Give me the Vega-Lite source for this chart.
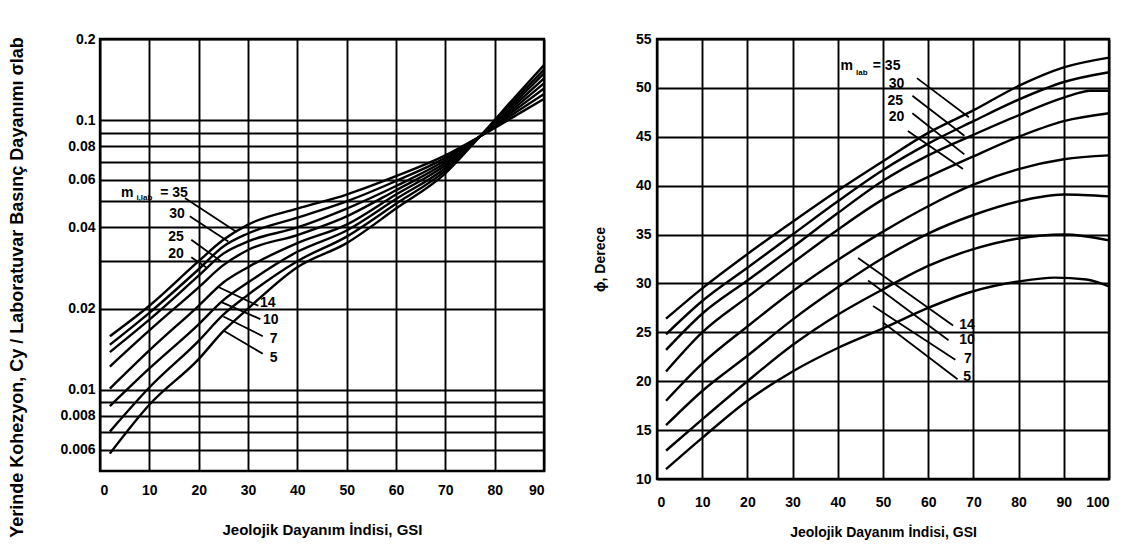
{
  "$schema": "https://vega.github.io/schema/vega-lite/v6.json",
  "background": "white",
  "padding": {"left": 7, "top": 30, "right": 4, "bottom": 2},
  "spacing": 42,
  "config": {
    "view": {"stroke": "black", "strokeWidth": 2.4},
    "axis": {"grid": true, "gridColor": "black", "gridWidth": 1.9, "gridOpacity": 1, "domain": false, "ticks": false,
      "labelFont": "Liberation Sans", "labelFontSize": 14, "labelFontWeight": "bold", "labelColor": "black", "labelPadding": 5,
      "titleFont": "Liberation Sans", "titleFontWeight": "bold", "titleColor": "black"}
  },
  "datasets": {
    "coh": [
      {"mi":35,"gsi":2,"c":0.0158},{"mi":35,"gsi":10,"c":0.0205},{"mi":35,"gsi":20,"c":0.030},{"mi":35,"gsi":25,"c":0.036},{"mi":35,"gsi":30,"c":0.041},{"mi":35,"gsi":40,"c":0.047},{"mi":35,"gsi":50,"c":0.053},{"mi":35,"gsi":60,"c":0.062},{"mi":35,"gsi":70,"c":0.074},{"mi":35,"gsi":77,"c":0.087},{"mi":35,"gsi":85,"c":0.106},{"mi":35,"gsi":90,"c":0.120},
      {"mi":30,"gsi":2,"c":0.0147},{"mi":30,"gsi":10,"c":0.0193},{"mi":30,"gsi":20,"c":0.028},{"mi":30,"gsi":25,"c":0.034},{"mi":30,"gsi":30,"c":0.038},{"mi":30,"gsi":40,"c":0.0435},{"mi":30,"gsi":50,"c":0.050},{"mi":30,"gsi":60,"c":0.0595},{"mi":30,"gsi":70,"c":0.0725},{"mi":30,"gsi":77,"c":0.087},{"mi":30,"gsi":85,"c":0.109},{"mi":30,"gsi":90,"c":0.125},
      {"mi":25,"gsi":2,"c":0.0138},{"mi":25,"gsi":10,"c":0.0182},{"mi":25,"gsi":20,"c":0.0265},{"mi":25,"gsi":25,"c":0.032},{"mi":25,"gsi":30,"c":0.0355},{"mi":25,"gsi":40,"c":0.040},{"mi":25,"gsi":50,"c":0.047},{"mi":25,"gsi":60,"c":0.057},{"mi":25,"gsi":70,"c":0.071},{"mi":25,"gsi":77,"c":0.087},{"mi":25,"gsi":85,"c":0.112},{"mi":25,"gsi":90,"c":0.131},
      {"mi":20,"gsi":2,"c":0.0122},{"mi":20,"gsi":10,"c":0.0166},{"mi":20,"gsi":20,"c":0.024},{"mi":20,"gsi":25,"c":0.029},{"mi":20,"gsi":30,"c":0.033},{"mi":20,"gsi":40,"c":0.0375},{"mi":20,"gsi":50,"c":0.044},{"mi":20,"gsi":60,"c":0.055},{"mi":20,"gsi":70,"c":0.0695},{"mi":20,"gsi":77,"c":0.087},{"mi":20,"gsi":85,"c":0.115},{"mi":20,"gsi":90,"c":0.137},
      {"mi":14,"gsi":2,"c":0.0101},{"mi":14,"gsi":10,"c":0.0140},{"mi":14,"gsi":20,"c":0.0205},{"mi":14,"gsi":25,"c":0.025},{"mi":14,"gsi":30,"c":0.0285},{"mi":14,"gsi":40,"c":0.035},{"mi":14,"gsi":50,"c":0.041},{"mi":14,"gsi":60,"c":0.053},{"mi":14,"gsi":70,"c":0.068},{"mi":14,"gsi":77,"c":0.087},{"mi":14,"gsi":85,"c":0.118},{"mi":14,"gsi":90,"c":0.143},
      {"mi":10,"gsi":2,"c":0.0087},{"mi":10,"gsi":10,"c":0.0120},{"mi":10,"gsi":20,"c":0.0175},{"mi":10,"gsi":25,"c":0.0215},{"mi":10,"gsi":30,"c":0.025},{"mi":10,"gsi":40,"c":0.0325},{"mi":10,"gsi":50,"c":0.039},{"mi":10,"gsi":60,"c":0.051},{"mi":10,"gsi":70,"c":0.0665},{"mi":10,"gsi":77,"c":0.087},{"mi":10,"gsi":85,"c":0.121},{"mi":10,"gsi":90,"c":0.149},
      {"mi":7,"gsi":2,"c":0.0070},{"mi":7,"gsi":10,"c":0.0102},{"mi":7,"gsi":20,"c":0.0152},{"mi":7,"gsi":25,"c":0.019},{"mi":7,"gsi":30,"c":0.0225},{"mi":7,"gsi":40,"c":0.030},{"mi":7,"gsi":50,"c":0.037},{"mi":7,"gsi":60,"c":0.049},{"mi":7,"gsi":70,"c":0.065},{"mi":7,"gsi":77,"c":0.087},{"mi":7,"gsi":85,"c":0.124},{"mi":7,"gsi":90,"c":0.154},
      {"mi":5,"gsi":2,"c":0.0058},{"mi":5,"gsi":10,"c":0.0088},{"mi":5,"gsi":20,"c":0.0130},{"mi":5,"gsi":25,"c":0.0165},{"mi":5,"gsi":30,"c":0.020},{"mi":5,"gsi":40,"c":0.0285},{"mi":5,"gsi":50,"c":0.035},{"mi":5,"gsi":60,"c":0.047},{"mi":5,"gsi":70,"c":0.0635},{"mi":5,"gsi":77,"c":0.087},{"mi":5,"gsi":85,"c":0.127},{"mi":5,"gsi":90,"c":0.160}
    ],
    "cLead": [
      {"gsi":17.2,"c":0.0515,"gsi2":27.7,"c2":0.0385},
      {"gsi":18.2,"c":0.044,"gsi2":26.0,"c2":0.0355},
      {"gsi":18.5,"c":0.036,"gsi2":24.5,"c2":0.030},
      {"gsi":18.5,"c":0.031,"gsi2":21.5,"c2":0.0285},
      {"gsi":32.1,"c":0.0205,"gsi2":24.1,"c2":0.0240},
      {"gsi":32.5,"c":0.0183,"gsi2":24.5,"c2":0.0212},
      {"gsi":33.0,"c":0.0158,"gsi2":25.0,"c2":0.0187},
      {"gsi":33.0,"c":0.0136,"gsi2":25.0,"c2":0.0166}
    ],
    "cText": [
      {"t":"m","gsi":5.5,"c":0.0539},
      {"t":"= 35","gsi":15.0,"c":0.0539},
      {"t":"30","gsi":15.6,"c":0.045},
      {"t":"25","gsi":15.4,"c":0.0368},
      {"t":"20","gsi":15.4,"c":0.0318},
      {"t":"14","gsi":34.0,"c":0.0209},
      {"t":"10","gsi":34.6,"c":0.0181},
      {"t":"7","gsi":35.2,"c":0.0154},
      {"t":"5","gsi":35.2,"c":0.0131}
    ],
    "cSub": [{"t":"i,lab","gsi":9.0,"c":0.0515}],
    "phi": [
      {"mi":35,"gsi":2,"p":26.4},{"mi":35,"gsi":10,"p":29.5},{"mi":35,"gsi":20,"p":33.0},{"mi":35,"gsi":30,"p":36.3},{"mi":35,"gsi":40,"p":39.5},{"mi":35,"gsi":50,"p":42.5},{"mi":35,"gsi":60,"p":45.4},{"mi":35,"gsi":70,"p":47.7},{"mi":35,"gsi":80,"p":50.2},{"mi":35,"gsi":90,"p":52.1},{"mi":35,"gsi":100,"p":53.1},
      {"mi":30,"gsi":2,"p":24.8},{"mi":30,"gsi":10,"p":28.2},{"mi":30,"gsi":20,"p":31.6},{"mi":30,"gsi":30,"p":35.0},{"mi":30,"gsi":40,"p":38.4},{"mi":30,"gsi":50,"p":41.6},{"mi":30,"gsi":60,"p":44.3},{"mi":30,"gsi":70,"p":46.6},{"mi":30,"gsi":80,"p":48.8},{"mi":30,"gsi":90,"p":50.6},{"mi":30,"gsi":100,"p":51.6},
      {"mi":25,"gsi":2,"p":23.2},{"mi":25,"gsi":10,"p":26.9},{"mi":25,"gsi":20,"p":30.3},{"mi":25,"gsi":30,"p":33.7},{"mi":25,"gsi":40,"p":37.2},{"mi":25,"gsi":50,"p":40.5},{"mi":25,"gsi":60,"p":43.1},{"mi":25,"gsi":70,"p":45.2},{"mi":25,"gsi":80,"p":47.2},{"mi":25,"gsi":90,"p":49.0},{"mi":25,"gsi":96,"p":49.7},{"mi":25,"gsi":100,"p":49.7},
      {"mi":20,"gsi":2,"p":21.0},{"mi":20,"gsi":10,"p":25.0},{"mi":20,"gsi":20,"p":28.6},{"mi":20,"gsi":30,"p":32.1},{"mi":20,"gsi":40,"p":35.5},{"mi":20,"gsi":50,"p":38.6},{"mi":20,"gsi":60,"p":40.9},{"mi":20,"gsi":70,"p":43.0},{"mi":20,"gsi":80,"p":45.0},{"mi":20,"gsi":90,"p":46.6},{"mi":20,"gsi":100,"p":47.4},
      {"mi":14,"gsi":2,"p":18.0},{"mi":14,"gsi":10,"p":21.8},{"mi":14,"gsi":20,"p":25.6},{"mi":14,"gsi":30,"p":29.2},{"mi":14,"gsi":40,"p":32.4},{"mi":14,"gsi":50,"p":35.3},{"mi":14,"gsi":60,"p":37.9},{"mi":14,"gsi":70,"p":40.1},{"mi":14,"gsi":80,"p":41.7},{"mi":14,"gsi":90,"p":42.7},{"mi":14,"gsi":100,"p":43.1},
      {"mi":10,"gsi":2,"p":15.5},{"mi":10,"gsi":10,"p":19.0},{"mi":10,"gsi":20,"p":22.6},{"mi":10,"gsi":30,"p":26.3},{"mi":10,"gsi":40,"p":29.6},{"mi":10,"gsi":50,"p":32.6},{"mi":10,"gsi":60,"p":35.1},{"mi":10,"gsi":70,"p":37.0},{"mi":10,"gsi":80,"p":38.4},{"mi":10,"gsi":90,"p":39.1},{"mi":10,"gsi":100,"p":38.9},
      {"mi":7,"gsi":2,"p":12.9},{"mi":7,"gsi":10,"p":16.1},{"mi":7,"gsi":20,"p":20.0},{"mi":7,"gsi":30,"p":23.7},{"mi":7,"gsi":40,"p":26.8},{"mi":7,"gsi":50,"p":29.4},{"mi":7,"gsi":60,"p":31.8},{"mi":7,"gsi":70,"p":33.5},{"mi":7,"gsi":80,"p":34.6},{"mi":7,"gsi":90,"p":35.0},{"mi":7,"gsi":100,"p":34.4},
      {"mi":5,"gsi":2,"p":11.0},{"mi":5,"gsi":10,"p":14.2},{"mi":5,"gsi":20,"p":18.0},{"mi":5,"gsi":30,"p":21.0},{"mi":5,"gsi":40,"p":23.4},{"mi":5,"gsi":50,"p":25.4},{"mi":5,"gsi":60,"p":27.5},{"mi":5,"gsi":70,"p":29.2},{"mi":5,"gsi":80,"p":30.2},{"mi":5,"gsi":88,"p":30.6},{"mi":5,"gsi":95,"p":30.4},{"mi":5,"gsi":100,"p":29.7}
    ],
    "pLead": [
      {"gsi":57.5,"p":51.0,"gsi2":69.0,"p2":47.0},
      {"gsi":56.5,"p":49.2,"gsi2":68.0,"p2":45.1},
      {"gsi":56.5,"p":47.4,"gsi2":68.0,"p2":43.2},
      {"gsi":55.5,"p":45.6,"gsi2":67.7,"p2":41.7},
      {"gsi":65.5,"p":25.7,"gsi2":44.5,"p2":32.6},
      {"gsi":64.5,"p":24.2,"gsi2":46.7,"p2":30.3},
      {"gsi":66.0,"p":22.2,"gsi2":47.8,"p2":27.7},
      {"gsi":66.5,"p":20.2,"gsi2":50.0,"p2":26.0}
    ],
    "pText": [
      {"t":"m","gsi":42.0,"p":52.2},
      {"t":"= 35","gsi":50.8,"p":52.2},
      {"t":"30","gsi":53.0,"p":50.4},
      {"t":"25","gsi":52.7,"p":48.7},
      {"t":"20","gsi":53.0,"p":47.0},
      {"t":"14","gsi":68.6,"p":25.8},
      {"t":"10","gsi":68.6,"p":24.2},
      {"t":"7","gsi":68.8,"p":22.3},
      {"t":"5","gsi":68.6,"p":20.4}
    ],
    "pSub": [{"t":"lab","gsi":45.3,"p":51.5}]
  },
  "hconcat": [
    {
      "width": 444,
      "height": 432,
      "encoding": {
        "x": {"field": "gsi", "type": "quantitative",
          "scale": {"domain": [0, 90], "nice": false, "zero": false},
          "axis": {"values": [0,10,20,30,40,50,60,70,80,90], "labelPadding": 12, "title": "Jeolojik Dayanım İndisi, GSI", "titleFontSize": 15, "titlePadding": 25}},
        "y": {"field": "c", "type": "quantitative",
          "scale": {"type": "log", "domain": [0.005, 0.2], "nice": false},
          "axis": {"values": [0.006,0.007,0.008,0.009,0.01,0.02,0.03,0.04,0.05,0.06,0.07,0.08,0.09,0.1,0.2],
            "labelExpr": "indexof([0.2,0.1,0.08,0.06,0.04,0.02,0.01,0.008,0.006], datum.value) >= 0 ? datum.value + '' : ''",
            "title": "Yerinde Kohezyon, Cy / Laboratuvar Basınç Dayanımı σlab", "titleFontSize": 18, "titlePadding": 33, "titleY": 248}}
      },
      "layer": [
        {"data": {"name": "coh"}, "mark": {"type": "line", "interpolate": "monotone", "color": "black", "strokeWidth": 2.4},
         "encoding": {"detail": {"field": "mi", "type": "nominal"}}},
        {"data": {"name": "cLead"}, "mark": {"type": "rule", "color": "black", "strokeWidth": 1.8},
         "encoding": {"x2": {"field": "gsi2"}, "y2": {"field": "c2"}}},
        {"data": {"name": "cText"}, "mark": {"type": "text", "font": "Liberation Sans", "fontWeight": "bold", "fontSize": 14, "align": "center", "baseline": "middle", "color": "black"},
         "encoding": {"text": {"field": "t"}}},
        {"data": {"name": "cSub"}, "mark": {"type": "text", "font": "Liberation Sans", "fontWeight": "bold", "fontSize": 8, "align": "center", "baseline": "middle", "color": "black"},
         "encoding": {"text": {"field": "t"}}}
      ]
    },
    {
      "width": 452,
      "height": 440,
      "encoding": {
        "x": {"field": "gsi", "type": "quantitative",
          "scale": {"domain": [0, 100], "nice": false, "zero": false},
          "axis": {"values": [0,10,20,30,40,50,60,70,80,90,100], "labelPadding": 16, "title": "Jeolojik Dayanım İndisi, GSI", "titleFontSize": 14, "titlePadding": 16}},
        "y": {"field": "p", "type": "quantitative",
          "scale": {"domain": [10, 55], "nice": false, "zero": false},
          "axis": {"values": [10,15,20,25,30,35,40,45,50,55], "title": "ϕ, Derece", "titleFontSize": 14, "titlePadding": 28, "labelPadding": 6}}
      },
      "layer": [
        {"data": {"name": "phi"}, "mark": {"type": "line", "interpolate": "monotone", "color": "black", "strokeWidth": 2.4},
         "encoding": {"detail": {"field": "mi", "type": "nominal"}}},
        {"data": {"name": "pLead"}, "mark": {"type": "rule", "color": "black", "strokeWidth": 1.8},
         "encoding": {"x2": {"field": "gsi2"}, "y2": {"field": "p2"}}},
        {"data": {"name": "pText"}, "mark": {"type": "text", "font": "Liberation Sans", "fontWeight": "bold", "fontSize": 14, "align": "center", "baseline": "middle", "color": "black"},
         "encoding": {"text": {"field": "t"}}},
        {"data": {"name": "pSub"}, "mark": {"type": "text", "font": "Liberation Sans", "fontWeight": "bold", "fontSize": 8, "align": "center", "baseline": "middle", "color": "black"},
         "encoding": {"text": {"field": "t"}}}
      ]
    }
  ]
}
